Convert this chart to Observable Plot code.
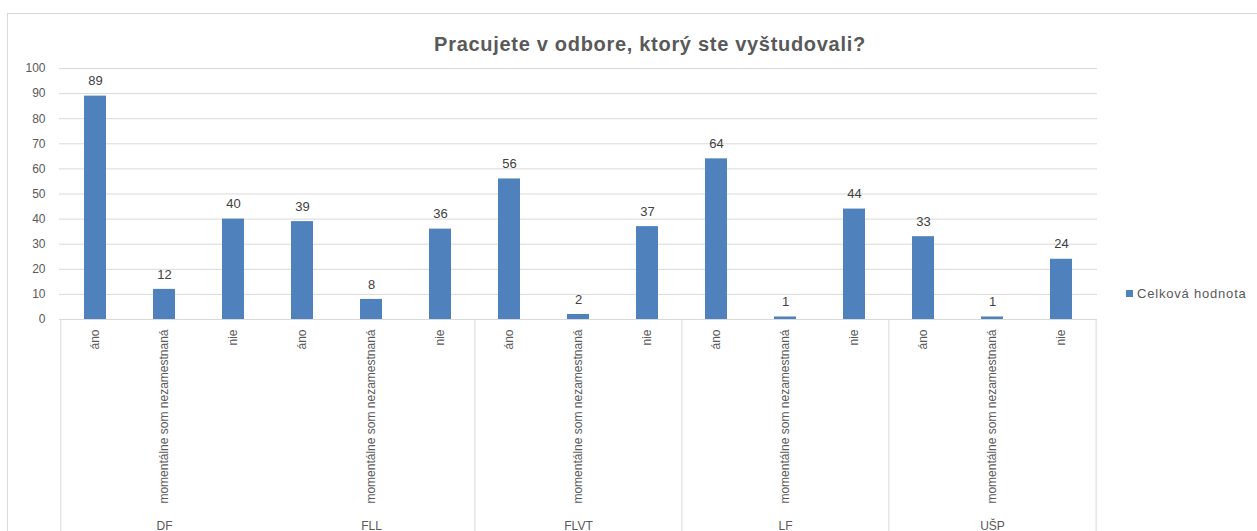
<!DOCTYPE html>
<html>
<head>
<meta charset="utf-8">
<script src="https://cdn.jsdelivr.net/npm/d3@7"></script>
<script src="https://cdn.jsdelivr.net/npm/@observablehq/plot@0.6"></script>
<style>
  html, body { margin: 0; padding: 0; background: #fff; overflow: hidden; }
  #wrap { position: relative; width: 1257px; height: 531px; font-family: "Liberation Sans", Arial, sans-serif; }
  #frame { position: absolute; left: 7px; top: 13px; width: 1260px; height: 530px; border-left: 1px solid #d9d9d9; border-top: 1px solid #d9d9d9; }
  #title { position: absolute; left: 0; top: 33px; width: 1300px; text-align: center; font-size: 20px; letter-spacing: 0.7px; font-weight: bold; color: #595959; }
  #legend { position: absolute; left: 1126px; top: 286px; font-size: 13px; letter-spacing: 0.8px; color: #595959; display: flex; align-items: center; white-space: nowrap; }
  #legend .sw { width: 7px; height: 7px; background: #4F81BD; margin-right: 4px; }
  #chart { position: absolute; left: 0; top: 0; }
</style>
</head>
<body>
<div id="wrap">
  <div id="frame"></div>
  <div id="chart"></div>
  <div id="title">Pracujete v odbore, ktorý ste vyštudovali?</div>
  <div id="legend"><div class="sw"></div><span>Celková hodnota</span></div>
</div>
<script>
const groups = ["DF", "FLL", "FLVT", "LF", "UŠP"];
const answers = ["áno", "momentálne som nezamestnaná", "nie"];
const values = [
  [89, 12, 40],
  [39, 8, 36],
  [56, 2, 37],
  [64, 1, 44],
  [33, 1, 24]
];
const yTicks = [0, 10, 20, 30, 40, 50, 60, 70, 80, 90, 100];
const seriesName = "Celková hodnota";

const rows = [];
groups.forEach((g, gi) => answers.forEach((a, ai) => rows.push({group: g, answer: a, key: g + "|" + a, value: values[gi][ai]})));
const keys = rows.map(r => r.key);

const W = 1257, H = 531;
const mL = 59, mR = 160, mT = 68, mB = 212;
const step = (W - mL - mR) / keys.length;
const gray = "#d9d9d9";
const txt = "#595959";

const plot = Plot.plot({
  width: W,
  height: H,
  marginLeft: mL,
  marginRight: mR,
  marginTop: mT,
  marginBottom: mB,
  style: {fontFamily: "'Liberation Sans', Arial, sans-serif", background: "transparent", overflow: "visible"},
  x: {domain: keys, paddingInner: 0.68, paddingOuter: 0.34, align: 0.5},
  y: {domain: [0, 100]},
  marks: [
    Plot.gridY(yTicks.filter(t => t > 0), {stroke: gray, strokeOpacity: 1, strokeWidth: 1}),
    Plot.ruleY([0], {stroke: gray, strokeWidth: 1}),
    Plot.axisY(yTicks, {tickSize: 0, tickPadding: 14, fontSize: 12, fill: txt, label: null, style: "letter-spacing: 0.8px"}),
    Plot.barY(rows, {x: "key", y: "value", fill: "#4F81BD"}),
    Plot.text(rows, {x: "key", y: "value", text: d => String(d.value), dy: -15, fontSize: 13, fill: "#404040", style: "letter-spacing: 1px"}),
    Plot.axisX({tickRotate: -90, tickSize: 0, tickPadding: 10, fontSize: 12, fill: txt, label: null, tickFormat: d => d.split("|")[1]}),
    Plot.ruleX([groups[0] + "|" + answers[0], groups[2] + "|" + answers[0], groups[3] + "|" + answers[0], groups[4] + "|" + answers[0]],
      {x: d => d, dx: -step / 2, stroke: gray, strokeWidth: 1, insetTop: H - mT - mB, insetBottom: -mB}),
    Plot.ruleX([groups[4] + "|" + answers[2]],
      {x: d => d, dx: step / 2, stroke: gray, strokeWidth: 1, insetTop: H - mT - mB, insetBottom: -mB}),
    Plot.text(groups, {x: g => g + "|" + answers[1], frameAnchor: "bottom", dy: 210, fontSize: 12, fill: txt, text: d => d})
  ]
});
document.getElementById("chart").appendChild(plot);
</script>
</body>
</html>
